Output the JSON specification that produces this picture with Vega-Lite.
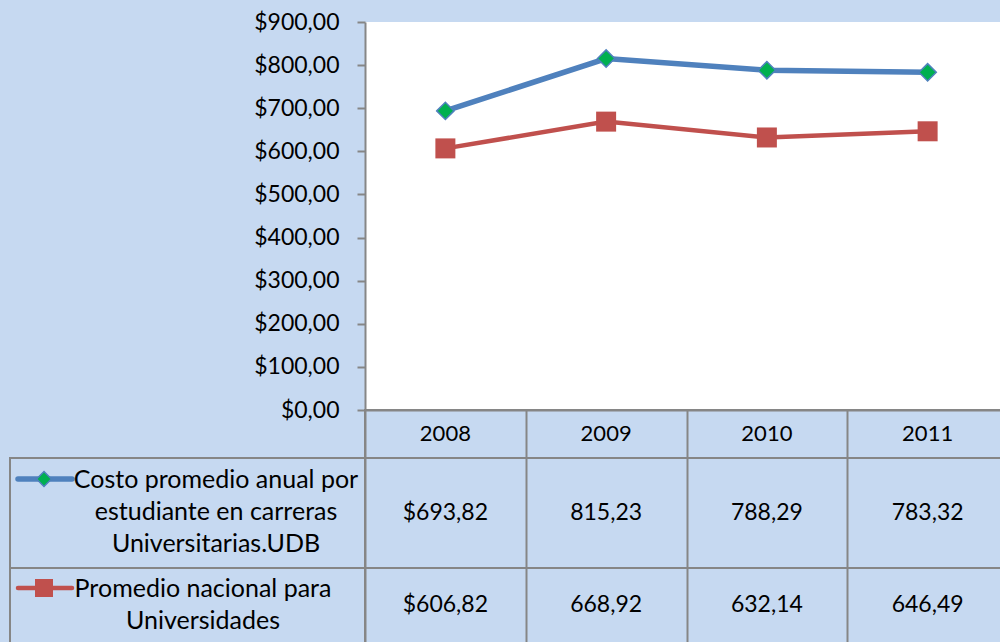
{
  "$schema": "https://vega.github.io/schema/vega-lite/v6.json",
  "background": "#C6D9F1",
  "autosize": {"type": "pad"},
  "padding": {"left": 9, "top": 11, "right": 0, "bottom": 0},
  "columns": 2,
  "spacing": 0,
  "bounds": "flush",
  "align": "each",
  "datasets": {
    "costos": [
      {"year": "2008", "serie": "UDB", "value": 693.82},
      {"year": "2009", "serie": "UDB", "value": 815.23},
      {"year": "2010", "serie": "UDB", "value": 788.29},
      {"year": "2011", "serie": "UDB", "value": 783.32},
      {"year": "2008", "serie": "Nacional", "value": 606.82},
      {"year": "2009", "serie": "Nacional", "value": 668.92},
      {"year": "2010", "serie": "Nacional", "value": 632.14},
      {"year": "2011", "serie": "Nacional", "value": 646.49}
    ]
  },
  "concat": [
    {
      "width": 355, "height": 388,
      "view": {"stroke": null},
      "data": {"values": [{}]},
      "mark": {"type": "text", "text": ""},
      "encoding": {}
    },
    {
      "width": 643, "height": 388,
      "view": {"fill": "white", "stroke": null},
      "data": {"name": "costos"},
      "encoding": {
        "x": {"field": "year", "type": "ordinal", "scale": {"paddingInner": 0, "paddingOuter": 0},
              "axis": {"labels": false, "ticks": false, "title": null, "domainColor": "#868686", "domainWidth": 2}},
        "y": {"field": "value", "type": "quantitative", "scale": {"domain": [0, 900], "nice": false},
              "axis": {"values": [0, 100, 200, 300, 400, 500, 600, 700, 800, 900], "format": "$,.2f", "title": null, "grid": false,
                       "labelFontSize": 23, "labelColor": "#000000", "labelPadding": 18, "labelFont": "Lato",
                       "domainColor": "#868686", "domainWidth": 2, "tickColor": "#868686", "tickWidth": 2, "tickSize": 8}}
      },
      "layer": [
        {"transform": [{"filter": "datum.serie === 'Nacional'"}], "mark": {"type": "line", "color": "#C0504D", "strokeWidth": 4.5}},
        {"transform": [{"filter": "datum.serie === 'Nacional'"}], "mark": {"type": "point", "shape": "square", "filled": true, "color": "#C0504D", "size": 400, "opacity": 1}},
        {"transform": [{"filter": "datum.serie === 'UDB'"}], "mark": {"type": "line", "color": "#4F81BD", "strokeWidth": 5.5}},
        {"transform": [{"filter": "datum.serie === 'UDB'"}], "mark": {"type": "point", "shape": "diamond", "filled": true, "fill": "#00B050", "stroke": "#4F81BD", "strokeWidth": 1.5, "size": 300, "opacity": 1}}
      ]
    },
    {
      "width": 355, "height": 48,
      "view": {"stroke": null},
      "data": {"values": [{}]},
      "mark": {"type": "text", "text": ""},
      "encoding": {}
    },
    {
      "width": 643, "height": 48,
      "view": {"stroke": "#868686", "strokeWidth": 2},
      "data": {"name": "costos"},
      "transform": [{"filter": "datum.serie === 'UDB'"}],
      "mark": {"type": "text", "fontSize": 22, "font": "Lato", "color": "#000000"},
      "encoding": {
        "x": {"field": "year", "type": "ordinal", "scale": {"paddingInner": 0, "paddingOuter": 0},
              "axis": {"grid": true, "tickBand": "extent", "labels": false, "ticks": false, "domain": false, "title": null, "gridColor": "#868686", "gridWidth": 2}},
        "text": {"field": "year"}
      }
    },
    {
      "width": 355, "height": 110,
      "view": {"stroke": "#868686", "strokeWidth": 2},
      "data": {"values": [{"serie": "UDB"}]},
      "layer": [
        {"mark": {"type": "rule", "color": "#4F81BD", "strokeWidth": 5.5, "strokeCap": "round"},
         "encoding": {"x": {"value": 8}, "x2": {"value": 62}, "y": {"value": 21}}},
        {"mark": {"type": "point", "shape": "diamond", "filled": true, "fill": "#00B050", "stroke": "#4F81BD", "strokeWidth": 1.5, "size": 220, "opacity": 1},
         "encoding": {"x": {"value": 34}, "y": {"value": 21}}},
        {"mark": {"type": "text", "align": "center", "baseline": "middle", "fontSize": 25, "font": "Lato", "lineHeight": 32, "color": "#000000",
                  "text": ["Costo promedio anual por", "estudiante en carreras", "Universitarias.UDB"]},
         "encoding": {"x": {"value": 206}, "y": {"value": 22}}}
      ]
    },
    {
      "width": 643, "height": 110,
      "view": {"stroke": "#868686", "strokeWidth": 2},
      "data": {"name": "costos"},
      "transform": [
        {"filter": "datum.serie === 'UDB'"},
        {"calculate": "datum.year === '2008' ? format(datum.value, '$,.2f') : format(datum.value, ',.2f')", "as": "label"}
      ],
      "mark": {"type": "text", "fontSize": 23, "font": "Lato", "color": "#000000"},
      "encoding": {
        "x": {"field": "year", "type": "ordinal", "scale": {"paddingInner": 0, "paddingOuter": 0},
              "axis": {"grid": true, "tickBand": "extent", "labels": false, "ticks": false, "domain": false, "title": null, "gridColor": "#868686", "gridWidth": 2}},
        "text": {"field": "label"}
      }
    },
    {
      "width": 355, "height": 80,
      "view": {"stroke": "#868686", "strokeWidth": 2},
      "data": {"values": [{"serie": "Nacional"}]},
      "layer": [
        {"mark": {"type": "rule", "color": "#C0504D", "strokeWidth": 4.5, "strokeCap": "round"},
         "encoding": {"x": {"value": 8}, "x2": {"value": 62}, "y": {"value": 20}}},
        {"mark": {"type": "point", "shape": "square", "filled": true, "color": "#C0504D", "size": 324, "opacity": 1},
         "encoding": {"x": {"value": 34}, "y": {"value": 20}}},
        {"mark": {"type": "text", "align": "center", "baseline": "middle", "fontSize": 25, "font": "Lato", "lineHeight": 32, "color": "#000000",
                  "text": ["Promedio nacional para", "Universidades"]},
         "encoding": {"x": {"value": 193}, "y": {"value": 21}}}
      ]
    },
    {
      "width": 643, "height": 80,
      "view": {"stroke": "#868686", "strokeWidth": 2},
      "data": {"name": "costos"},
      "transform": [
        {"filter": "datum.serie === 'Nacional'"},
        {"calculate": "datum.year === '2008' ? format(datum.value, '$,.2f') : format(datum.value, ',.2f')", "as": "label"}
      ],
      "mark": {"type": "text", "fontSize": 23, "font": "Lato", "color": "#000000"},
      "encoding": {
        "x": {"field": "year", "type": "ordinal", "scale": {"paddingInner": 0, "paddingOuter": 0},
              "axis": {"grid": true, "tickBand": "extent", "labels": false, "ticks": false, "domain": false, "title": null, "gridColor": "#868686", "gridWidth": 2}},
        "y": {"value": 37},
        "text": {"field": "label"}
      }
    }
  ],
  "config": {
    "font": "Lato",
    "locale": {"number": {"decimal": ",", "thousands": ".", "grouping": [3], "currency": ["$", ""]}}
  }
}
